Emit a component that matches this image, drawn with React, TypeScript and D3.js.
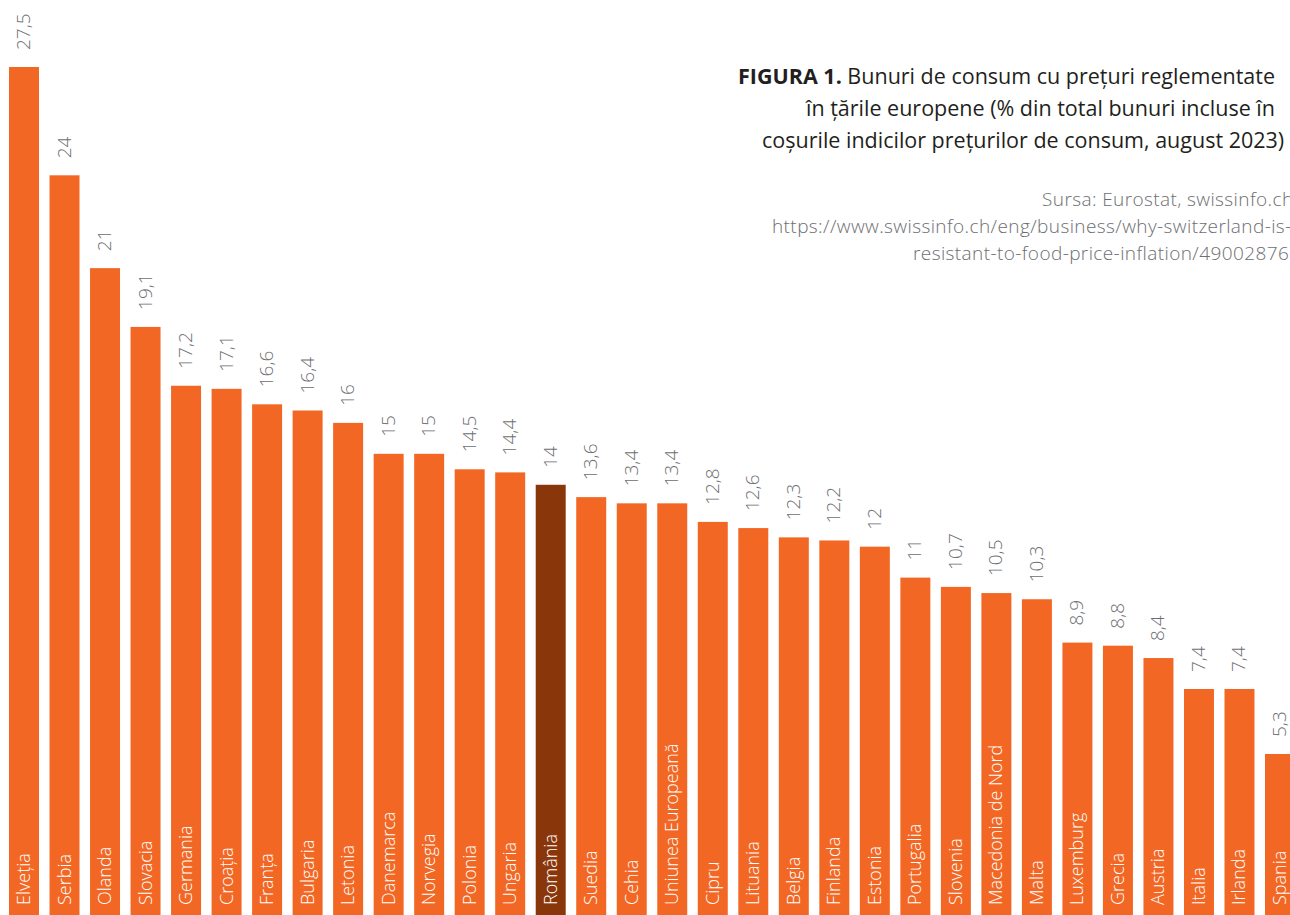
import React from 'react';
import * as d3 from 'd3';

const width = 1290,
      height = 915;

const countries = [
    'Elveția', 'Serbia', 'Olanda', 'Slovacia', 'Germania', 'Croația', 'Franța', 'Bulgaria',
    'Letonia', 'Danemarca', 'Norvegia', 'Polonia', 'Ungaria', 'România', 'Suedia', 'Cehia',
    'Uniunea Europeană', 'Cipru', 'Lituania', 'Belgia', 'Finlanda', 'Estonia', 'Portugalia', 'Slovenia',
    'Macedonia de Nord', 'Malta', 'Luxemburg', 'Grecia', 'Austria', 'Italia', 'Irlanda', 'Spania',
];
const shares = [
    27.5, 24, 21, 19.1, 17.2, 17.1, 16.6, 16.4,
    16, 15, 15, 14.5, 14.4, 14, 13.6, 13.4,
    13.4, 12.8, 12.6, 12.3, 12.2, 12, 11, 10.7,
    10.5, 10.3, 8.9, 8.8, 8.4, 7.4, 7.4, 5.3,
];
const highlight = 'România';

const titleLines = [
    'în țările europene (% din total bunuri incluse în',
    'coșurile indicilor prețurilor de consum, august 2023)',
];
const sourceLines = [
    'Sursa: Eurostat, swissinfo.ch',
    'https://www.swissinfo.ch/eng/business/why-switzerland-is-',
    'resistant-to-food-price-inflation/49002876',
];

const orange = '#f26724';
const brown = '#8a360b';
const font = "'Open Sans', sans-serif";

const App = () => {
    const x = d3.scaleBand<string>()
        .domain(countries)
        .range([9, 1295])
        .paddingInner(0.26)
        .paddingOuter(0);

    const y = d3.scaleLinear().domain([0, 27.5]).range([918, 67]);

    const fmt = (v: number) => String(v).replace('.', ',');
    const data = countries.map((c, i) => ({ name: c, value: shares[i] }));

    return (
        <svg width={width} height={height} viewBox={`0 0 ${width} ${height}`}
             style={{ position: 'absolute', left: 0, top: 0, overflow: 'hidden' }}
             fontFamily={font}>
            <rect width={width} height={height} fill="#fff" />
            {data.map((d) => {
                const bx = x(d.name)!;
                const cx = bx + x.bandwidth() / 2;
                return (
                    <g key={d.name}>
                        <rect x={bx} y={y(d.value)} width={x.bandwidth()} height={y(0) - y(d.value)}
                              fill={d.name === highlight ? brown : orange} />
                        <text transform={`translate(${cx + 6},${y(d.value) - 17}) rotate(-90)`}
                              fontSize={19} fontWeight={300} fill="#6d6e71">{fmt(d.value)}</text>
                        <text transform={`translate(${cx + 6},905) rotate(-90)`}
                              fontSize={18} fontWeight={300} fill="#fff">{d.name}</text>
                    </g>
                );
            })}
            <text x={738} y={84} fontSize={21.5} fill="#231f20">
                <tspan fontWeight={700}>FIGURA 1.</tspan>
                <tspan fontWeight={400}> Bunuri de consum cu prețuri reglementate</tspan>
            </text>
            {titleLines.map((t, i) => (
                <text key={t} x={i === 0 ? 806 : 762} y={116 + i * 32} fontSize={21.5} fill="#231f20">{t}</text>
            ))}
            {sourceLines.map((t, i) => (
                <text key={t} x={[1042, 772, 913][i]} y={206 + i * 27} fontSize={19} letterSpacing={0.4}
                      fontWeight={300} fill="#6d6e71">{t}</text>
            ))}
        </svg>
    );
};

export default App;
